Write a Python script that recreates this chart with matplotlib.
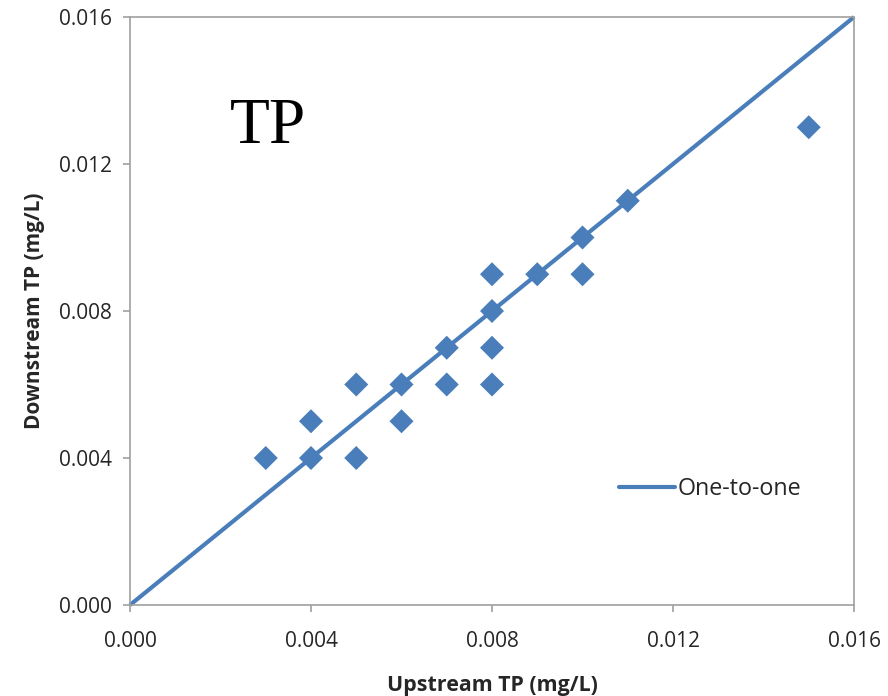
import matplotlib
matplotlib.use("Agg")
import matplotlib.pyplot as plt

upstream = [0.003, 0.004, 0.004, 0.005, 0.005, 0.006, 0.006, 0.007, 0.007,
            0.008, 0.008, 0.008, 0.008, 0.009, 0.010, 0.010, 0.011, 0.015]
downstream = [0.004, 0.005, 0.004, 0.006, 0.004, 0.006, 0.005, 0.007, 0.006,
              0.009, 0.008, 0.007, 0.006, 0.009, 0.010, 0.009, 0.011, 0.013]
one_to_one = [0.0, 0.016]
ticks = [0.000, 0.004, 0.008, 0.012, 0.016]

blue = "#4a7ebb"
frame = "#a0a0a0"
txt = "#262626"

fig = plt.figure(figsize=(8.88, 6.96), dpi=100)
ax = fig.add_axes([130 / 888, 1 - 605 / 696, 724 / 888, 588 / 696])

ax.plot(one_to_one, one_to_one, color=blue, lw=3, label="One-to-one",
        solid_capstyle="butt", zorder=2, clip_on=False)
ax.scatter(upstream, downstream, marker="D", s=150, color=blue,
           edgecolors="none", zorder=3, clip_on=False)

ax.set_xlim(0, 0.016)
ax.set_ylim(0, 0.016)
ax.set_xticks(ticks)
ax.set_yticks(ticks)
ax.set_xticklabels([f"{t:.3f}" for t in ticks])
ax.set_yticklabels([f"{t:.3f}" for t in ticks])

for s in ax.spines.values():
    s.set_color(frame)
    s.set_linewidth(1.2)
ax.tick_params(axis="both", direction="out", length=5, width=1.2, color=frame,
               labelsize=15, labelcolor=txt)
ax.tick_params(axis="x", pad=14)
ax.tick_params(axis="y", pad=8)
for lab in ax.get_xticklabels() + ax.get_yticklabels():
    lab.set_family("Open Sans")

ax.set_xlabel("Upstream TP (mg/L)", fontsize=15.4, fontweight="bold",
              family="Open Sans", color=txt, labelpad=16)
ax.set_ylabel("Downstream TP (mg/L)", fontsize=15, fontweight="bold",
              family="Open Sans", color=txt, labelpad=10)

ax.text(0.0022, 0.01257, "TP", fontsize=47, family="Liberation Serif",
        color="black", ha="left", va="baseline")

leg = ax.legend(loc="center left", bbox_to_anchor=(0.6464, 0.197),
                frameon=False, handlelength=2.4, handletextpad=0.12,
                prop={"family": "Open Sans", "size": 16.8})
for t in leg.get_texts():
    t.set_color(txt)
for h in leg.get_lines():
    h.set_solid_capstyle("round")

fig.savefig("out.png", dpi=100)
